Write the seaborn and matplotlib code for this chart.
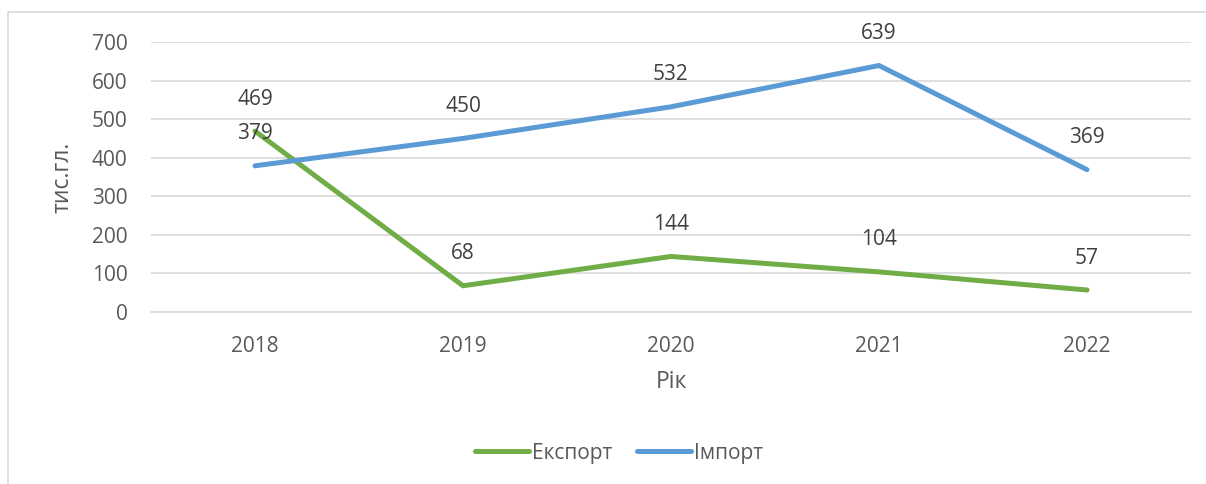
import matplotlib
matplotlib.use("Agg")
import matplotlib.pyplot as plt
import seaborn as sns
import pandas as pd
from matplotlib.patches import Rectangle

# дані
years = [2018, 2019, 2020, 2021, 2022]
eksport = [469, 68, 144, 104, 57]
import_ = [379, 450, 532, 639, 369]
series_names = ["Експорт", "Імпорт"]
colors = {"Експорт": "#70AD47", "Імпорт": "#5B9BD5"}

df = pd.DataFrame({
    "Рік": years * 2,
    "value": eksport + import_,
    "series": [series_names[0]] * len(years) + [series_names[1]] * len(years),
})

sns.set_theme(style="white")
plt.rcParams["font.family"] = ["Open Sans", "DejaVu Sans"]
txt = "#595959"

fig = plt.figure(figsize=(12.06, 4.84), dpi=100)
ax = fig.add_axes([151 / 1206, 1 - 312 / 484, 1040 / 1206, 270 / 484])

# рамка діаграми
fig.patches.append(Rectangle((8 / 1206, -0.1), 1.2, 1 - 12 / 484 + 0.1, transform=fig.transFigure,
                             fill=False, edgecolor="#D9D9D9", linewidth=1.2))

sns.lineplot(data=df, x="Рік", y="value", hue="series", palette=colors, ax=ax,
             linewidth=3.6, legend=False, solid_capstyle="round")

for name, vals in zip(series_names, [eksport, import_]):
    for x, v in zip(years, vals):
        ax.annotate(str(v), (x, v), xytext=(0, 23), textcoords="offset points",
                    ha="center", va="center", fontsize=15, color="#404040")

ax.set_xlim(2017.5, 2022.5)
ax.set_ylim(0, 700)
ax.set_xticks(years)
ax.set_yticks(range(0, 701, 100))
ax.yaxis.grid(True, color="#D9D9D9", linewidth=1.2)
ax.xaxis.grid(False)
for s in ["top", "right", "left"]:
    ax.spines[s].set_visible(False)
ax.spines["bottom"].set_color("#D9D9D9")
ax.spines["bottom"].set_linewidth(1.2)
ax.tick_params(axis="both", length=0, labelsize=15, labelcolor=txt)
ax.tick_params(axis="x", pad=17)
ax.tick_params(axis="y", pad=17)
ax.set_xlabel("Рік", fontsize=16.5, color=txt, labelpad=10)
ax.set_ylabel("тис.гл.", fontsize=16.5, color=txt, labelpad=12)

handles = [plt.Line2D([], [], color=colors[n], linewidth=3.6, solid_capstyle="round") for n in series_names]
fig.legend(handles, series_names, loc="center", bbox_to_anchor=(619 / 1206, 1 - 453 / 484), ncol=2,
           frameon=False, fontsize=15, labelcolor=txt, handlelength=2.6, handletextpad=0.15,
           columnspacing=1.2)

fig.savefig("out.png", dpi=100, facecolor="white")
